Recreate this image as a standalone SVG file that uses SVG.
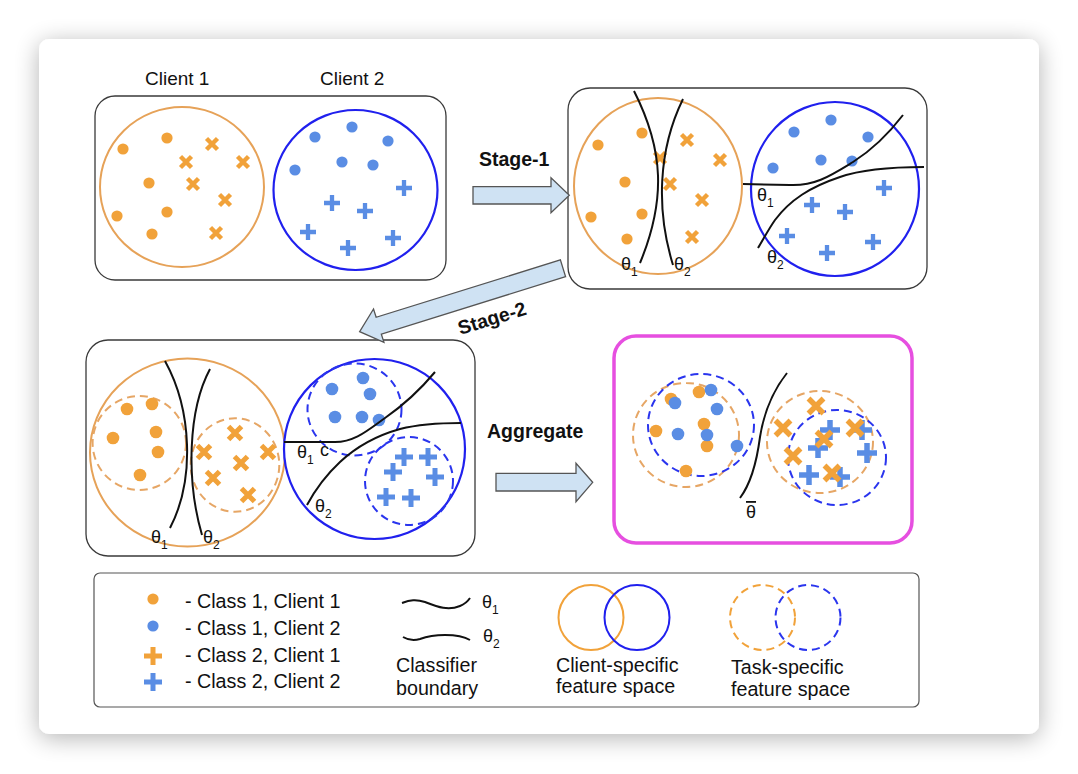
<svg xmlns="http://www.w3.org/2000/svg" xmlns:xlink="http://www.w3.org/1999/xlink" width="1078" height="774" viewBox="0 0 1078 774">
<style>
text{font-family:"Liberation Sans",Arial,sans-serif;fill:#111;}
.t{font-size:19px;}
.lt{font-size:19.7px;}
.b{font-size:19.5px;font-weight:bold;}
.th{font-size:18px;}
.sub{font-size:12px;}
.panel{fill:#fff;stroke:#3a3a3a;stroke-width:1.3;}
.oc{fill:#fff;stroke:#E6A258;stroke-width:2;}
.bc{fill:#fff;stroke:#2020EE;stroke-width:2.2;}
.od{fill:none;stroke:#E6A665;stroke-width:2;stroke-dasharray:8 5;}
.bd{fill:none;stroke:#2A35EE;stroke-width:2;stroke-dasharray:8 5;}
.cv{fill:none;stroke:#111;stroke-width:2;}
.arr{fill:#CFE2F3;stroke:#555;stroke-width:1.3;}
</style>
<defs>
<filter id="sh" x="-10%" y="-10%" width="120%" height="125%">
<feGaussianBlur in="SourceAlpha" stdDeviation="12"/>
<feOffset dy="4"/>
<feComponentTransfer><feFuncA type="linear" slope="0.3"/></feComponentTransfer>
<feMerge><feMergeNode/><feMergeNode in="SourceGraphic"/></feMerge>
</filter>
<circle id="odA" r="5.6" fill="#F1A23A"/>
<circle id="bdA" r="5.6" fill="#5A8DE4"/>
<circle id="odB" r="6.3" fill="#F1A23A"/>
<circle id="bdB" r="6.3" fill="#5A8DE4"/>
<path id="oxA" d="M-5.5,-5.5L5.5,5.5M5.5,-5.5L-5.5,5.5" stroke="#F1A23A" stroke-width="4.4" fill="none"/>
<path id="oxB" d="M-6.5,-6.5L6.5,6.5M6.5,-6.5L-6.5,6.5" stroke="#F1A23A" stroke-width="5" fill="none"/>
<path id="oxC" d="M-7.5,-7.5L7.5,7.5M7.5,-7.5L-7.5,7.5" stroke="#F1A23A" stroke-width="5.5" fill="none"/>
<path id="bpA" d="M-8,0H8M0,-8V8" stroke="#5A8DE4" stroke-width="4.3" fill="none"/>
<path id="bpB" d="M-9,0H9M0,-9V9" stroke="#5A8DE4" stroke-width="5" fill="none"/>
<path id="bpC" d="M-10,0H10M0,-10V10" stroke="#5A8DE4" stroke-width="5.5" fill="none"/>
<path id="opL" d="M-9,0H9M0,-9V9" stroke="#F1A23A" stroke-width="5" fill="none"/>
<path id="bpL" d="M-9,0H9M0,-9V9" stroke="#5A8DE4" stroke-width="5" fill="none"/>
</defs>
<rect width="1078" height="774" fill="#fff"/>
<rect id="card" x="39" y="39" width="1000" height="695" rx="10" fill="#fff" filter="url(#sh)"/>

<g id="client-labels">
<text class="t" x="145" y="85">Client 1</text>
<text class="t" x="320" y="85">Client 2</text>
</g>

<g id="panel-initial">
<rect class="panel" x="95" y="96" width="351" height="184" rx="20"/>
<ellipse class="oc" cx="182" cy="187" rx="82" ry="80"/>
<ellipse class="bc" cx="355.5" cy="190" rx="82" ry="80"/>
<use href="#odA" x="123" y="149"/><use href="#odA" x="167" y="138"/><use href="#odA" x="149" y="183"/>
<use href="#odA" x="167" y="212"/><use href="#odA" x="117" y="216"/><use href="#odA" x="152" y="234"/>
<use href="#oxA" x="212" y="144"/><use href="#oxA" x="186" y="162"/><use href="#oxA" x="243" y="162"/>
<use href="#oxA" x="193" y="184"/><use href="#oxA" x="225" y="200"/><use href="#oxA" x="216" y="233"/>
<use href="#bdA" x="315" y="137"/><use href="#bdA" x="352" y="127"/><use href="#bdA" x="388" y="141"/>
<use href="#bdA" x="295" y="170"/><use href="#bdA" x="342" y="162"/><use href="#bdA" x="373" y="165"/>
<use href="#bpA" x="404" y="188"/><use href="#bpA" x="332" y="203"/><use href="#bpA" x="365" y="211"/>
<use href="#bpA" x="308" y="232"/><use href="#bpA" x="348" y="248"/><use href="#bpA" x="393" y="238"/>
</g>

<g id="panel-stage1">
<rect class="panel" x="568" y="88" width="359" height="201" rx="22"/>
<ellipse class="oc" cx="658" cy="186" rx="84" ry="88"/>
<ellipse class="bc" cx="835" cy="189" rx="84" ry="87"/>
<use href="#odA" x="598" y="145"/><use href="#odA" x="642" y="133"/><use href="#odA" x="625" y="182"/>
<use href="#odA" x="591" y="217"/><use href="#odA" x="642" y="214"/><use href="#odA" x="627" y="239"/>
<use href="#oxA" x="687" y="140"/><use href="#oxA" x="660" y="158"/><use href="#oxA" x="720" y="160"/>
<use href="#oxA" x="670" y="184"/><use href="#oxA" x="702" y="200"/><use href="#oxA" x="692" y="237"/>
<use href="#bdA" x="794" y="132"/><use href="#bdA" x="831" y="120"/><use href="#bdA" x="868" y="137"/>
<use href="#bdA" x="773" y="168"/><use href="#bdA" x="821" y="160"/><use href="#bdA" x="852" y="161"/>
<use href="#bpA" x="884" y="188"/><use href="#bpA" x="812" y="205"/><use href="#bpA" x="845" y="212"/>
<use href="#bpA" x="787" y="236"/><use href="#bpA" x="827" y="253"/><use href="#bpA" x="873" y="242"/>
<path class="cv" d="M634,91 C664,150 666,200 640,263"/>
<path class="cv" d="M683,99 C658,150 656,210 673,265"/>
<path class="cv" d="M743,184 L790,185 C815,186 830,176 853,162 C875,148 890,132 903,115"/>
<path class="cv" d="M924,167 C890,167 860,170 840,177 C810,187 790,200 775,220 C768,230 763,240 758,248"/>
<text class="th" x="621" y="270">θ<tspan class="sub" dy="6">1</tspan></text>
<text class="th" x="674" y="270">θ<tspan class="sub" dy="6">2</tspan></text>
<text class="th" x="757" y="201">θ<tspan class="sub" dy="6">1</tspan></text>
<text class="th" x="767" y="263">θ<tspan class="sub" dy="6">2</tspan></text>
</g>

<g id="panel-stage2">
<rect class="panel" x="86" y="340" width="389" height="216" rx="22"/>
<ellipse class="oc" cx="187.5" cy="452.5" rx="97.5" ry="94"/>
<ellipse class="bc" cx="374.5" cy="449" rx="90.5" ry="90"/>
<ellipse class="od" cx="139.3" cy="443" rx="46.7" ry="47"/>
<ellipse class="od" cx="235" cy="465" rx="44.3" ry="46.7"/>
<ellipse class="bd" cx="354.5" cy="409.5" rx="47" ry="46"/>
<ellipse class="bd" cx="409" cy="481" rx="44" ry="44"/>
<use href="#odB" x="127" y="409"/><use href="#odB" x="152" y="404"/><use href="#odB" x="113" y="438"/>
<use href="#odB" x="156" y="432"/><use href="#odB" x="158" y="452"/><use href="#odB" x="140" y="475"/>
<use href="#oxB" x="235" y="433"/><use href="#oxB" x="204" y="452"/><use href="#oxB" x="268" y="452"/>
<use href="#oxB" x="241" y="463"/><use href="#oxB" x="213" y="478"/><use href="#oxB" x="248" y="495"/>
<use href="#bdB" x="363" y="378"/><use href="#bdB" x="332" y="389"/><use href="#bdB" x="370" y="394"/>
<use href="#bdB" x="335" y="417"/><use href="#bdB" x="362" y="417"/><use href="#bdB" x="379" y="420"/>
<use href="#bpB" x="404" y="457"/><use href="#bpB" x="428" y="457"/><use href="#bpB" x="393" y="472"/>
<use href="#bpB" x="435" y="477"/><use href="#bpB" x="386" y="497"/><use href="#bpB" x="411" y="498"/>
<path class="cv" d="M165,361 C192,410 195,480 170,528"/>
<path class="cv" d="M210,369 C188,410 186,480 202,535"/>
<path class="cv" d="M284,442 L335,442 C355,442 368,430 385,418 C405,404 420,390 435,372"/>
<path class="cv" d="M461,423 C440,423 420,424 400,429 C375,436 355,448 340,462 C325,476 314,492 307,505"/>
<text class="th" x="151" y="543">θ<tspan class="sub" dy="6">1</tspan></text>
<text class="th" x="203" y="543">θ<tspan class="sub" dy="6">2</tspan></text>
<text class="th" x="297" y="458">θ<tspan class="sub" dy="6">1</tspan></text>
<text class="th" x="320" y="456">c</text>
<text class="th" x="315" y="512">θ<tspan class="sub" dy="6">2</tspan></text>
</g>

<g id="panel-aggregate">
<rect x="614" y="336" width="298" height="207" rx="22" fill="#fff" stroke="#E64FE0" stroke-width="3.5"/>
<ellipse class="od" cx="686" cy="435" rx="53" ry="52"/>
<ellipse class="bd" cx="701" cy="425" rx="53" ry="51"/>
<ellipse class="od" cx="820" cy="442" rx="53" ry="51"/>
<ellipse class="bd" cx="837" cy="457.5" rx="49" ry="47.5"/>
<use href="#odB" x="671" y="399"/><use href="#odB" x="699" y="392"/><use href="#odB" x="656" y="431"/>
<use href="#odB" x="704" y="424"/><use href="#odB" x="707" y="446"/><use href="#odB" x="686" y="471"/>
<use href="#bdB" x="675" y="403"/><use href="#bdB" x="711" y="390"/><use href="#bdB" x="717" y="409"/>
<use href="#bdB" x="678" y="434"/><use href="#bdB" x="707" y="435"/><use href="#bdB" x="737" y="446"/>
<use href="#bpC" x="830" y="430"/><use href="#bpC" x="862" y="430"/><use href="#bpC" x="818" y="448"/>
<use href="#bpC" x="867" y="453"/><use href="#bpC" x="809" y="475"/><use href="#bpC" x="840" y="477"/>
<use href="#oxC" x="816" y="406"/><use href="#oxC" x="783" y="428"/><use href="#oxC" x="855" y="428"/>
<use href="#oxC" x="824" y="439"/><use href="#oxC" x="793" y="456"/><use href="#oxC" x="832" y="473"/>
<path class="cv" d="M787,373 C772,392 764,412 760,437 C757,460 752,482 740,498"/>
<text class="th" x="746" y="518" text-decoration="overline">θ</text>
</g>

<g id="connectors">
<polygon class="arr" points="473,186.7 551,186.7 551,177.7 569.3,195.3 551,212.7 551,204 473,204"/>
<text class="b" x="479" y="166">Stage-1</text>
<polygon class="arr" transform="translate(563,268.3) rotate(162.7)" points="0,-8.8 193,-8.8 193,-17.5 213,0 193,17.5 193,8.8 0,8.8"/>
<text class="b" x="492" y="325" text-anchor="middle" transform="rotate(-17 492 318)">Stage-2</text>
<polygon class="arr" points="496,473.3 576,473.3 576,463.3 592.7,482.3 576,501.7 576,491 496,491"/>
<text class="b" x="487" y="438">Aggregate</text>
</g>

<g id="legend">
<rect x="94" y="573" width="825" height="134" rx="6" fill="#fff" stroke="#555" stroke-width="1.2"/>
<circle cx="153" cy="599" r="5.6" fill="#F1A23A"/>
<circle cx="153" cy="626" r="5.6" fill="#5A8DE4"/>
<use href="#opL" x="153" y="656"/>
<use href="#bpL" x="153" y="682"/>
<text class="lt" x="185" y="608">- Class 1, Client 1</text>
<text class="lt" x="185" y="635">- Class 1, Client 2</text>
<text class="lt" x="185" y="662">- Class 2, Client 1</text>
<text class="lt" x="185" y="688">- Class 2, Client 2</text>
<path class="cv" d="M402,603 C410,600 416,599 425,602 C438,607 448,611 460,606 C465,604 468,601 470,598"/>
<path class="cv" d="M403,637 C408,640 413,641 420,639 C428,636 435,635 445,635 C458,635 465,637 470,640"/>
<text class="th" x="482" y="608">θ<tspan class="sub" dy="6">1</tspan></text>
<text class="th" x="483" y="642">θ<tspan class="sub" dy="6">2</tspan></text>
<text class="lt" x="396" y="672">Classifier</text>
<text class="lt" x="396" y="695">boundary</text>
<circle cx="591" cy="617.5" r="32.5" fill="none" stroke="#F1A23A" stroke-width="2"/>
<circle cx="637" cy="617.5" r="32.5" fill="none" stroke="#2020EE" stroke-width="2"/>
<text class="lt" x="556" y="672">Client-specific</text>
<text class="lt" x="556" y="693">feature space</text>
<circle class="od" cx="762.5" cy="617.5" r="32.5" style="stroke:#F1A23A"/>
<circle class="bd" cx="808" cy="617.5" r="32.5"/>
<text class="lt" x="731" y="674">Task-specific</text>
<text class="lt" x="731" y="696">feature space</text>
</g>
</svg>
